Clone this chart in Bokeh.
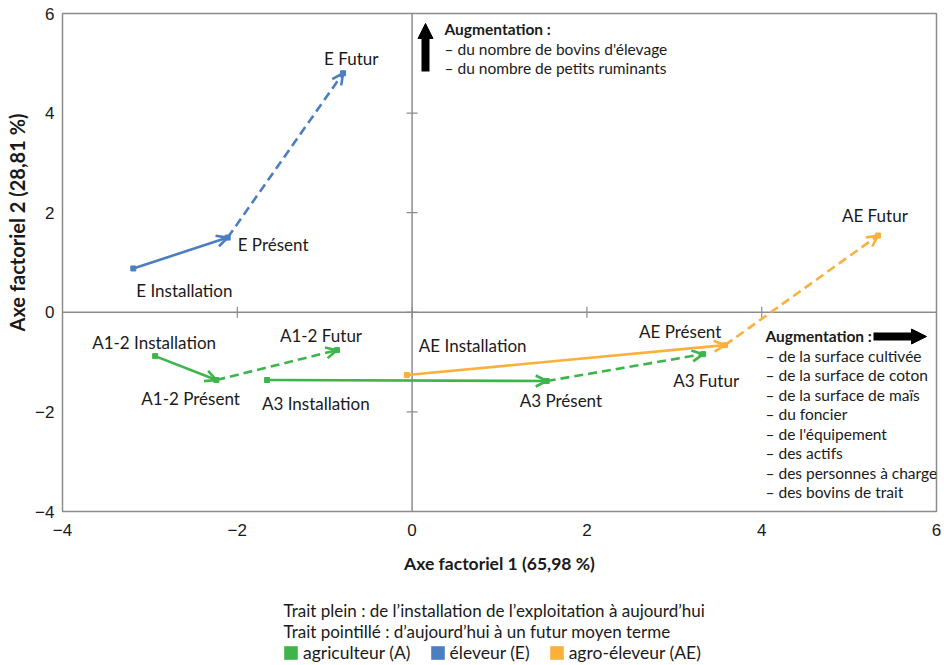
import math
from bokeh.plotting import figure
from bokeh.layouts import column
from bokeh.models import (Arrow, OpenHead, NormalHead, Label, Span, ColumnDataSource, Title,
                          Range1d, CustomJSTickFormatter, FixedTicker, Legend, LegendItem)
from bokeh.embed import file_html
from bokeh.resources import INLINE
from bokeh.core.properties import value

# ---------------- data ----------------
groups = ["A1-2", "A3", "E", "AE"]
group_type = ["A", "A", "E", "AE"]
stage_names = ["Installation", "Présent", "Futur"]
x_install = [-2.94, -1.66, -3.19, -0.06]
y_install = [-0.88, -1.36, 0.88, -1.26]
x_present = [-2.24, 1.54, -2.11, 3.58]
y_present = [-1.36, -1.38, 1.50, -0.66]
x_futur = [-0.86, 3.33, -0.79, 5.33]
y_futur = [-0.76, -0.84, 4.80, 1.54]

type_codes = ["A", "E", "AE"]
type_names = ["agriculteur (A)", "éleveur (E)", "agro-éleveur (AE)"]

x_ticks = [-4, -2, 0, 2, 4, 6]
y_ticks = [-4, -2, 0, 2, 4, 6]
x_title = "Axe factoriel 1 (65,98 %)"
y_title = "Axe factoriel 2 (28,81 %)"
up_title = "Augmentation :"
up_items = ["– du nombre de bovins d'élevage", "– du nombre de petits ruminants"]
right_title = "Augmentation :"
right_items = ["– de la surface cultivée", "– de la  surface de coton", "– de la surface de maïs",
               "– du foncier", "– de l'équipement", "– des actifs",
               "– des personnes à charge", "– des bovins de trait"]
note_lines = ["Trait plein : de l’installation de l’exploitation à aujourd’hui",
              "Trait pointillé : d’aujourd’hui à un futur moyen terme"]

# ---------------- style ----------------
colors = {"A": "#3db54a", "E": "#4b7fc2", "AE": "#fbb03b"}
label_offsets = {
    ("A1-2", "Installation"): (-63, -14), ("A1-2", "Présent"): (-75, 18), ("A1-2", "Futur"): (-57, -15),
    ("A3", "Installation"): (-5, 23), ("A3", "Présent"): (-27, 19), ("A3", "Futur"): (-30, 26),
    ("E", "Installation"): (3, 22), ("E", "Présent"): (10, 7), ("E", "Futur"): (-19, -15),
    ("AE", "Installation"): (12, -30), ("AE", "Présent"): (-86, -14), ("AE", "Futur"): (-36, -20),
}
FONT = "Lato"
GRAY = "#8c8c8c"
TXT = "#1a1a1a"
W = 942

p = figure(width=W, height=576, output_backend="svg", toolbar_location=None,
           x_range=Range1d(-4, 6), y_range=Range1d(-4, 6),
           min_border_left=61, min_border_right=6, min_border_top=13, min_border_bottom=63)
p.grid.visible = False
p.outline_line_color = GRAY
p.outline_line_width = 1.5
p.background_fill_color = "white"
p.border_fill_color = "white"

fmt = CustomJSTickFormatter(code="return tick < 0 ? '\u2212' + Math.abs(tick) : String(tick);")
for ax, ticks in ((p.xaxis[0], x_ticks), (p.yaxis[0], y_ticks)):
    ax.ticker = FixedTicker(ticks=ticks)
    ax.formatter = fmt
    ax.axis_line_color = None
    ax.major_tick_line_color = None
    ax.minor_tick_line_color = None
    ax.major_tick_out = 0
    ax.major_tick_in = 0
    ax.major_label_text_font = "Liberation Sans"
    ax.major_label_text_font_size = "17px"
    ax.major_label_text_color = TXT
p.xaxis.major_label_standoff = 12
p.yaxis.major_label_standoff = 8
p.xaxis.axis_label = x_title
p.xaxis.axis_label_text_font = FONT
p.xaxis.axis_label_text_font_size = "17.5px"
p.xaxis.axis_label_text_font_style = "bold"
p.xaxis.axis_label_text_color = TXT
p.xaxis.axis_label_standoff = 14

p.add_layout(Title(text=y_title, align="left", offset=180, vertical_align="middle",
                   text_font=FONT, text_font_size="20px", text_font_style="bold",
                   text_color=TXT, standoff=6), "left")

# zero lines with cross ticks
p.add_layout(Span(location=0, dimension="height", line_color=GRAY, line_width=1.5))
p.add_layout(Span(location=0, dimension="width", line_color=GRAY, line_width=1.5))
xt = [t for t in x_ticks if -4 < t < 6]
yt = [t for t in y_ticks if -4 < t < 6]
p.scatter(x=xt, y=[0] * len(xt), marker="dash", size=11, angle=math.pi / 2,
          line_color=GRAY, line_width=1.2)
p.scatter(x=[0] * len(yt), y=yt, marker="dash", size=11, line_color=GRAY, line_width=1.2)

# trajectories
for i, g in enumerate(groups):
    c = colors[group_type[i]]
    p.add_layout(Arrow(x_start=x_install[i], y_start=y_install[i],
                       x_end=x_present[i], y_end=y_present[i],
                       line_color=c, line_width=2.6,
                       end=OpenHead(size=11, line_color=c, line_width=2.6)))
    p.add_layout(Arrow(x_start=x_present[i], y_start=y_present[i],
                       x_end=x_futur[i], y_end=y_futur[i],
                       line_color=c, line_width=2.6, line_dash="9 5",
                       end=OpenHead(size=11, line_color=c, line_width=2.6)))
    p.scatter(x=[x_install[i], x_present[i], x_futur[i]],
              y=[y_install[i], y_present[i], y_futur[i]],
              marker="square", size=5, fill_color=c, line_color=c)

# point labels
lx, ly, lt, ldx, ldy = [], [], [], [], []
for i, g in enumerate(groups):
    for s, (xs, ys) in zip(stage_names, ((x_install, y_install), (x_present, y_present), (x_futur, y_futur))):
        lx.append(xs[i]); ly.append(ys[i]); lt.append(f"{g} {s}")
        dx, dy = label_offsets[(g, s)]
        ldx.append(dx); ldy.append(dy)
src = ColumnDataSource(dict(x=lx, y=ly, text=lt, dx=ldx, dy=ldy))
p.text(x="x", y="y", text="text", x_offset="dx", y_offset="dy", source=src,
       text_font=value(FONT), text_font_size="17px", text_color=TXT,
       text_align="left", text_baseline="middle")

# frame-relative placement (frame: left 61, bottom 513 on the page)
def lab(text, px, py, bold=False, size="15.5px"):
    return Label(x=px - 61, y=513 - py, x_units="screen", y_units="screen", text=text,
                 text_font=FONT, text_font_size=size, text_color=TXT,
                 text_font_style="bold" if bold else "normal",
                 text_align="left", text_baseline="middle")

# up annotation
p.add_layout(Arrow(x_start=424 - 61, y_start=513 - 73, x_end=424 - 61, y_end=513 - 25,
                   start_units="screen", end_units="screen", line_color="black", line_width=8,
                   end=NormalHead(size=15, fill_color="black", line_color="black")))
p.add_layout(lab(up_title, 443, 30, bold=True))
for k, t in enumerate(up_items):
    p.add_layout(lab(t, 443, 50 + 19.5 * k))

# right annotation
p.add_layout(Arrow(x_start=872 - 61, y_start=513 - 338, x_end=925 - 61, y_end=513 - 338,
                   start_units="screen", end_units="screen", line_color="black", line_width=8,
                   end=NormalHead(size=15, fill_color="black", line_color="black")))
p.add_layout(lab(right_title, 764, 337, bold=True))
for k, t in enumerate(right_items):
    p.add_layout(lab(t, 764, 357 + 19.5 * k))

# ---------------- notes + legend panel (frame aligned with the main frame) ----------------
H2 = 88
q = figure(width=W, height=H2, output_backend="svg", toolbar_location=None,
           x_range=Range1d(0, 1), y_range=Range1d(0, 1),
           x_axis_location=None, y_axis_location=None,
           min_border_left=0, min_border_right=0, min_border_top=0, min_border_bottom=0)
q.grid.visible = False
q.outline_line_color = None
q.background_fill_color = "white"
q.border_fill_color = "white"
TOP2 = 576  # page y of this panel's top
for k, t in enumerate(note_lines):
    q.add_layout(Label(x=282 - 61, y=H2 - (610 + 21 * k - TOP2), x_units="screen", y_units="screen",
                       text=t, text_font=FONT, text_font_size="17px", text_color=TXT,
                       text_align="left", text_baseline="middle"))
items = []
nan = float("nan")
for code, name in zip(type_codes, type_names):
    # legend proxy: a single empty (NaN) box carrying the group colour
    r = q.quad(left=[nan], right=[nan], top=[nan], bottom=[nan],
               fill_color=colors[code], line_color=None)
    items.append(LegendItem(label=name, renderers=[r]))
legend = Legend(items=items, location=(220, 1), orientation="horizontal",
                background_fill_alpha=0, border_line_color=None, padding=0, margin=0,
                spacing=18, label_standoff=4, glyph_width=17, glyph_height=17,
                label_height=16, label_text_font=FONT, label_text_font_size="17.5px",
                label_text_color=TXT)
q.add_layout(legend)

open("out.html", "w").write(file_html(column(p, q, spacing=0), INLINE))
